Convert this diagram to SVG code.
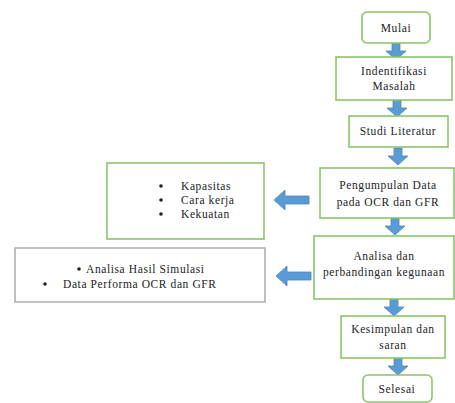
<svg xmlns="http://www.w3.org/2000/svg" width="455" height="403" viewBox="0 0 455 403">
<defs>
<style>
.g{fill:#fff;stroke:#8cc46a;stroke-width:1.6}
.gr{fill:#fff;stroke:#a6a6a6;stroke-width:1.4}
.t{font-family:"Liberation Serif","Times New Roman",serif;font-size:11.5px;fill:#222;letter-spacing:0.6px}
.m{text-anchor:middle}
.ar{fill:#5b9bd5;stroke:#4a86bf;stroke-width:0.8}
</style>
<path id="down" d="M-4,0 H4 V8 H10 L0,17 L-10,8 H-4 Z"/>
<path id="left" d="M0,0 L11,-10 V-4 H35 V4 H11 V10 Z"/>
</defs>
<rect width="455" height="403" fill="#fff"/>
<g id="connectors">
<use href="#down" class="ar" x="396" y="43"/>
<use href="#down" class="ar" x="397" y="100"/>
<use href="#down" class="ar" x="398" y="148"/>
<use href="#down" class="ar" x="395" y="218"/>
<use href="#down" class="ar" x="394" y="299"/>
<use href="#down" class="ar" x="398" y="358"/>
<use href="#left" class="ar" x="274" y="200"/>
<use href="#left" class="ar" x="276" y="276"/>
</g>
<g id="mulai"><rect class="g" x="362" y="12" width="68" height="31" rx="5"/><text class="t m" x="396" y="32">Mulai</text></g>
<g id="identifikasi"><rect class="g" x="336" y="57" width="116" height="43"/><text class="t m" x="394" y="75">Indentifikasi</text><text class="t m" x="394" y="90">Masalah</text></g>
<g id="studi"><rect class="g" x="349" y="116" width="99" height="31"/><text class="t m" x="398" y="135">Studi Literatur</text></g>
<g id="pengumpulan"><rect class="g" x="320" y="168" width="134" height="50"/><text class="t m" x="388" y="189">Pengumpulan Data</text><text class="t m" x="388" y="206">pada OCR dan GFR</text></g>
<g id="analisa"><rect class="g" x="314" y="236" width="140" height="63"/><text class="t m" x="384" y="260">Analisa dan</text><text class="t m" x="384" y="276">perbandingan kegunaan</text></g>
<g id="kesimpulan"><rect class="g" x="341" y="316" width="104" height="42"/><text class="t m" x="393" y="333">Kesimpulan dan</text><text class="t m" x="393" y="349">saran</text></g>
<g id="selesai"><rect class="g" x="363" y="375" width="69" height="27" rx="5"/><text class="t m" x="397" y="393">Selesai</text></g>
<g id="karakteristik"><rect class="g" x="107" y="163" width="157" height="76"/>
<circle cx="161" cy="186" r="1.8" fill="#222"/><text class="t" x="181" y="190">Kapasitas</text>
<circle cx="161" cy="200" r="1.8" fill="#222"/><text class="t" x="181" y="204">Cara kerja</text>
<circle cx="161" cy="214" r="1.8" fill="#222"/><text class="t" x="181" y="218">Kekuatan</text></g>
<g id="hasil"><rect class="gr" x="15" y="248" width="250" height="54"/>
<circle cx="79" cy="269" r="1.8" fill="#222"/><text class="t" x="86" y="273">Analisa Hasil Simulasi</text>
<circle cx="45" cy="284" r="1.8" fill="#222"/><text class="t" x="63" y="288">Data Performa OCR dan GFR</text></g>
</svg>
